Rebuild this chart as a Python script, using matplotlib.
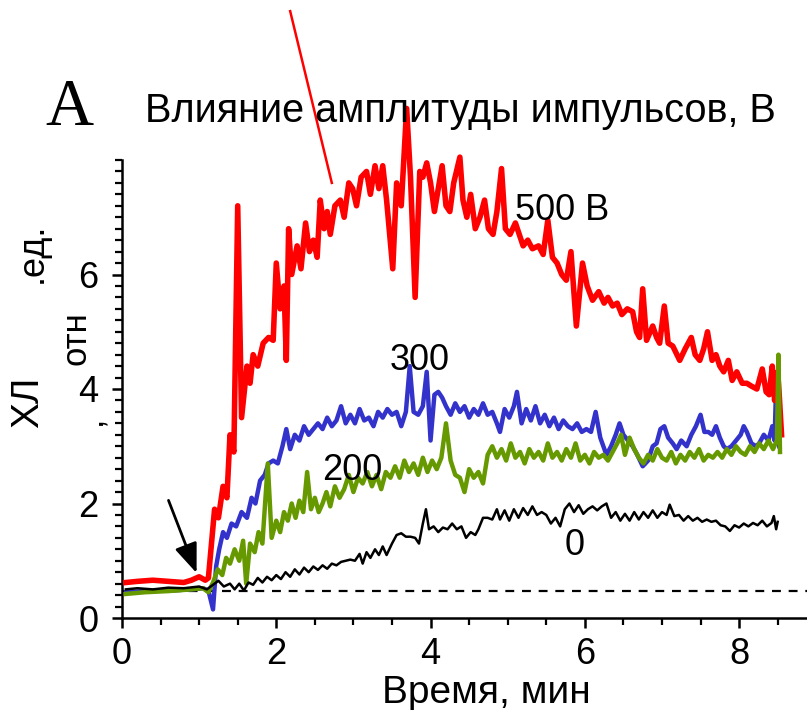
from matplotlib import pyplot as plt
from matplotlib.ticker import FixedLocator
import numpy as np

# 500 V
red_t = [0.05, 0.2, 0.4, 0.6, 0.8, 0.9, 1.0, 1.08, 1.12, 1.14,
         1.2, 1.25, 1.31, 1.36, 1.4, 1.45, 1.5, 1.55, 1.62, 1.66,
         1.7, 1.76, 1.83, 1.9, 1.96, 2.0, 2.05, 2.1, 2.13, 2.16,
         2.2, 2.27, 2.32, 2.38, 2.43, 2.48, 2.53, 2.57, 2.62, 2.66,
         2.7, 2.76, 2.83, 2.88, 2.94, 2.99, 3.04, 3.1, 3.17, 3.22,
         3.28, 3.33, 3.38, 3.43, 3.51, 3.56, 3.62, 3.69, 3.74, 3.8,
         3.86, 3.9, 3.95, 4.0, 4.05, 4.1, 4.15, 4.2, 4.25, 4.3,
         4.38, 4.42, 4.47, 4.52, 4.58, 4.64, 4.7, 4.75, 4.81, 4.86,
         4.92, 4.97, 5.03, 5.1, 5.2, 5.26, 5.32, 5.4, 5.46, 5.52,
         5.58, 5.64, 5.7, 5.76, 5.82, 5.89, 5.97, 6.03, 6.1, 6.18,
         6.25, 6.3, 6.36, 6.42, 6.48, 6.55, 6.62, 6.67, 6.71, 6.75,
         6.8, 6.88, 6.93, 6.97, 7.03, 7.08, 7.14, 7.23, 7.3, 7.38,
         7.43, 7.49, 7.54, 7.59, 7.65, 7.7, 7.75, 7.8, 7.86, 7.91,
         7.97, 8.04, 8.1, 8.16, 8.23, 8.3, 8.35, 8.39, 8.43, 8.46,
         8.5, 8.52, 8.55]
red_v = [0.62, 0.64, 0.66, 0.64, 0.62, 0.66, 0.72, 0.66, 0.7, 1.0,
         1.9, 1.75, 2.3, 2.1, 3.2, 2.9, 7.2, 3.5, 4.4, 4.1,
         4.6, 4.4, 4.8, 4.9, 4.85, 6.2, 5.4, 5.8, 4.5, 6.8,
         6.0, 6.5, 6.1, 6.9, 6.4, 6.6, 6.3, 7.3, 6.8, 7.1,
         6.7, 7.2, 7.3, 7.0, 7.6, 7.5, 7.2, 7.7, 7.8, 7.4,
         7.9, 7.5, 7.9, 7.3, 6.1, 7.6, 7.2, 8.9, 7.7, 5.6,
         7.8, 7.7, 7.95, 7.6, 7.1, 7.5, 7.9, 7.2, 7.1, 7.6,
         8.05, 7.3, 7.0, 7.4, 6.8, 7.0, 7.3, 6.8, 6.7, 7.1,
         7.85, 6.8, 6.7, 6.9, 6.5, 6.6, 6.45, 6.5, 6.35, 6.95,
         6.3, 6.2, 6.0, 5.9, 6.4, 5.1, 6.2, 5.8, 5.55, 5.7,
         5.5, 5.6, 5.45, 5.5, 5.3, 5.4, 5.35, 5.0, 4.9, 5.75,
         4.85, 5.1, 4.9, 4.8, 5.45, 4.8, 4.75, 4.5, 4.7, 4.9,
         4.6, 4.5, 4.7, 5.0, 4.5, 4.6, 4.4, 4.3, 4.5, 4.15,
         4.3, 4.1, 4.1, 4.05, 4.0, 4.35, 3.95, 3.9, 4.4, 3.8,
         4.3, 3.9, 3.2]
# stray spike above the frame
red_spike_t = [2.18, 2.72]
red_spike_v = [10.6, 7.6]

# 300 V
blue_t = [0.05, 0.3, 0.6, 0.9, 1.05, 1.12, 1.18, 1.22, 1.26, 1.31,
          1.36, 1.42, 1.48, 1.55, 1.62, 1.68, 1.73, 1.79, 1.85, 1.9,
          1.96, 2.02, 2.08, 2.13, 2.18, 2.24, 2.3, 2.36, 2.42, 2.48,
          2.54, 2.6, 2.66, 2.72, 2.78, 2.84, 2.9, 2.96, 3.02, 3.08,
          3.14, 3.2, 3.26, 3.32, 3.38, 3.44, 3.5, 3.56, 3.62, 3.68,
          3.73, 3.78, 3.84, 3.9, 3.95, 4.0, 4.05, 4.1, 4.15, 4.2,
          4.26, 4.32, 4.38, 4.44, 4.5, 4.56, 4.62, 4.68, 4.74, 4.8,
          4.86, 4.9, 4.96, 5.02, 5.08, 5.12, 5.18, 5.24, 5.3, 5.36,
          5.42, 5.48, 5.54, 5.6, 5.66, 5.72, 5.78, 5.84, 5.9, 5.96,
          6.02, 6.08, 6.14, 6.2, 6.28, 6.34, 6.4, 6.45, 6.5, 6.56,
          6.62, 6.68, 6.75, 6.82, 6.88, 6.93, 6.98, 7.03, 7.08, 7.14,
          7.19, 7.25, 7.32, 7.38, 7.44, 7.5, 7.55, 7.6, 7.65, 7.7,
          7.75, 7.8, 7.84, 7.9, 7.96, 8.02, 8.06, 8.1, 8.16, 8.22,
          8.26, 8.32, 8.38, 8.43, 8.46, 8.48, 8.5, 8.52]
blue_v = [0.45, 0.47, 0.48, 0.5, 0.52, 0.48, 0.15, 0.9, 1.2, 1.5,
          1.4, 1.65, 1.6, 1.85, 1.75, 2.1, 2.0, 2.4, 2.5, 2.7,
          2.75, 2.7, 3.0, 3.3, 2.95, 3.2, 3.1, 3.35, 3.2, 3.3,
          3.4, 3.3, 3.5, 3.35, 3.45, 3.7, 3.4, 3.55, 3.4, 3.65,
          3.45, 3.5, 3.35, 3.6, 3.5, 3.65, 3.55, 3.6, 3.35, 3.6,
          4.4, 3.6, 3.55, 3.7, 4.3, 3.1, 3.9, 3.95, 3.85, 3.7,
          3.55, 3.75, 3.6, 3.7, 3.5, 3.65, 3.55, 3.75, 3.55, 3.6,
          3.4, 3.25, 3.65, 3.5, 3.7, 3.95, 3.4, 3.65, 3.45, 3.7,
          3.4, 3.55, 3.35, 3.5, 3.3, 3.45, 3.35, 3.3, 3.4, 3.25,
          3.3, 3.25, 3.6, 3.15, 2.85, 3.0, 3.2, 3.4, 3.2, 3.1,
          3.0, 2.85, 2.65, 2.75, 3.0, 3.05, 3.3, 3.35, 3.15, 3.05,
          2.95, 3.1, 3.0, 3.2, 3.35, 3.55, 3.25, 3.25, 3.2, 3.35,
          3.15, 3.0, 2.95, 3.0, 3.1, 3.2, 3.35, 3.25, 3.05, 3.0,
          3.05, 3.2, 3.1, 3.35, 3.1, 4.1, 3.3, 3.0]

# 200 V
green_t = [0.05, 0.3, 0.6, 0.9, 1.05, 1.12, 1.18, 1.24, 1.3, 1.35,
           1.4, 1.46, 1.52, 1.57, 1.61, 1.66, 1.72, 1.77, 1.82, 1.89,
           1.94, 2.0, 2.05, 2.1, 2.15, 2.2, 2.25, 2.3, 2.35, 2.4,
           2.45, 2.5, 2.55, 2.6, 2.65, 2.7, 2.76, 2.82, 2.88, 2.94,
           3.0, 3.06, 3.12, 3.18, 3.24, 3.3, 3.36, 3.42, 3.48, 3.54,
           3.6, 3.66, 3.72, 3.78, 3.84, 3.9, 3.96, 4.02, 4.08, 4.14,
           4.2, 4.26, 4.32, 4.38, 4.44, 4.5, 4.56, 4.62, 4.68, 4.74,
           4.8, 4.86, 4.92, 4.98, 5.04, 5.1, 5.16, 5.22, 5.28, 5.34,
           5.4, 5.46, 5.52, 5.58, 5.64, 5.7, 5.76, 5.82, 5.88, 5.94,
           6.0, 6.06, 6.12, 6.18, 6.24, 6.3, 6.36, 6.42, 6.47, 6.52,
           6.58, 6.64, 6.7, 6.76, 6.82, 6.88, 6.94, 7.0, 7.06, 7.12,
           7.18, 7.24, 7.3, 7.36, 7.42, 7.48, 7.54, 7.6, 7.66, 7.72,
           7.78, 7.84, 7.9, 7.96, 8.02, 8.08, 8.14, 8.2, 8.26, 8.32,
           8.38, 8.44, 8.49, 8.51, 8.53]
green_v = [0.42, 0.45, 0.47, 0.5, 0.52, 0.45, 0.62, 0.85, 0.75, 1.05,
           0.95, 1.2, 1.0, 1.35, 0.6, 1.3, 1.15, 1.5, 1.3, 2.7,
           1.4, 1.7, 1.5, 1.85, 1.7, 2.0, 1.75, 2.05, 1.85, 2.55,
           1.9, 2.1, 1.85, 2.0, 2.2, 1.95, 2.3, 2.1, 2.25, 2.5,
           2.2, 2.45, 2.35, 2.55, 2.3, 2.5, 2.25, 2.55, 2.45, 2.65,
           2.45, 2.75, 2.55, 2.7, 2.5, 2.8, 2.55, 2.75, 2.6, 2.8,
           3.4, 2.75, 2.5, 2.45, 2.2, 2.6, 2.45, 2.55, 2.35, 2.85,
           3.0, 2.8, 2.95, 2.75, 3.05, 2.8, 2.9, 2.7, 2.95, 2.8,
           2.9, 2.75, 3.05, 2.8, 2.9, 2.75, 2.95, 2.8, 3.05, 2.75,
           2.85, 2.7, 2.9, 2.8, 2.85, 2.75, 2.9, 3.05, 3.2, 2.85,
           3.15, 2.95, 2.8, 2.7, 2.85, 2.75, 2.95, 2.8, 2.75, 2.9,
           2.7, 2.85, 2.75, 2.9, 2.8, 2.95, 2.75, 2.85, 2.8, 2.9,
           2.8, 2.95, 2.85, 3.0, 2.9, 2.85, 3.0, 2.9, 3.05, 2.95,
           3.1, 2.95, 3.1, 4.6, 2.9]

# 0 V
black_t = [0.05, 0.2, 0.4, 0.6, 0.8, 1.0, 1.1, 1.18, 1.25, 1.32,
           1.4, 1.46, 1.52, 1.58, 1.64, 1.7, 1.76, 1.82, 1.88, 1.94,
           2.0, 2.06, 2.12, 2.18, 2.24, 2.3, 2.36, 2.42, 2.48, 2.54,
           2.6, 2.66, 2.72, 2.78, 2.84, 2.9, 2.96, 3.02, 3.08, 3.12,
           3.17, 3.22, 3.28, 3.33, 3.38, 3.43, 3.5, 3.56, 3.62, 3.68,
           3.74, 3.8, 3.85, 3.9, 3.94, 3.98, 4.04, 4.1, 4.16, 4.22,
           4.28, 4.34, 4.4, 4.46, 4.52, 4.58, 4.62, 4.68, 4.74, 4.8,
           4.86, 4.9, 4.96, 5.02, 5.08, 5.14, 5.2, 5.26, 5.32, 5.38,
           5.44, 5.5, 5.56, 5.62, 5.68, 5.74, 5.8, 5.86, 5.92, 5.98,
           6.04, 6.1, 6.16, 6.22, 6.28, 6.34, 6.4, 6.46, 6.52, 6.58,
           6.64, 6.7, 6.76, 6.82, 6.88, 6.94, 7.0, 7.06, 7.1, 7.16,
           7.22, 7.28, 7.34, 7.4, 7.46, 7.52, 7.58, 7.64, 7.7, 7.76,
           7.82, 7.88, 7.94, 8.0, 8.06, 8.12, 8.18, 8.24, 8.3, 8.36,
           8.42, 8.45, 8.48, 8.5]
black_v = [0.5, 0.52, 0.5, 0.53, 0.52, 0.55, 0.5, 0.58, 0.65, 0.55,
           0.6, 0.5, 0.6, 0.48, 0.62, 0.58, 0.7, 0.62, 0.72, 0.66,
           0.75, 0.68, 0.8, 0.72, 0.85, 0.76, 0.88, 0.8, 0.9, 0.84,
           0.92, 0.86, 0.95, 0.92, 0.98, 1.0, 1.02, 1.0, 1.12, 0.95,
           1.15, 1.05, 1.2, 1.1, 1.25, 1.1, 1.3, 1.45, 1.48, 1.42,
           1.42, 1.4, 1.3, 1.65, 1.9, 1.55, 1.6, 1.5, 1.58, 1.55,
           1.65, 1.55, 1.6, 1.4, 1.5, 1.45, 1.55, 1.75, 1.75, 1.72,
           1.9, 1.72, 1.88, 1.7, 1.9, 1.75, 1.92, 1.8, 1.95, 1.8,
           1.85, 1.8, 1.65, 1.75, 1.6, 1.9, 2.0, 1.85, 1.97, 1.82,
           1.9, 1.95, 1.88, 1.95, 2.0, 1.75, 1.85, 1.7, 1.82, 1.7,
           1.85, 1.72, 1.85, 1.75, 1.88, 1.75, 1.85, 1.8, 1.98, 1.78,
           1.8, 1.7, 1.78, 1.7, 1.75, 1.68, 1.72, 1.68, 1.7, 1.62,
           1.6, 1.52, 1.62, 1.58, 1.65, 1.6, 1.66, 1.62, 1.7, 1.6,
           1.66, 1.78, 1.55, 1.68]

baseline = 0.47
series_labels = ['500 В', '300', '200', '0']
label_pos = [(5.09, 6.96), (3.47, 4.34), (2.59, 2.41), (5.74, 1.1)]

W, H = 807, 710
fig = plt.figure(figsize=(W / 100, H / 100), dpi=100)
ax = fig.add_axes([122 / W, 92 / H, 1 - 122 / W, 458 / H])

def fx(px):
    return px / W

def fy(py):
    return 1 - py / H

ax.axhline(baseline, color='black', lw=1.6, ls=(0, (4, 3.5)), zorder=1)
ax.plot(blue_t, blue_v, color='#3333cc', lw=3.2, zorder=2)
ax.plot(red_t, red_v, color='#ff0000', lw=4.0, zorder=3, clip_on=False)
ax.plot(red_spike_t, red_spike_v, color='#ff0000', lw=1.8, zorder=3, clip_on=False)
ax.plot(green_t, green_v, color='#669900', lw=3.2, zorder=4)
ax.plot(black_t, black_v, color='black', lw=1.8, zorder=5)

for s, (x, y) in zip(series_labels, label_pos):
    ax.text(x, y, s, fontsize=26, family='Liberation Sans', va='baseline', ha='left', zorder=6)

ax.annotate('', xy=(0.98, 0.74), xytext=(0.59, 2.1),
            arrowprops=dict(arrowstyle='-|>,head_length=1.8,head_width=0.7', color='black', lw=2))

ax.set_xlim(0, 8.88)
ax.set_ylim(0, 8)
ax.xaxis.set_major_locator(FixedLocator([0, 2, 4, 6, 8]))
ax.xaxis.set_minor_locator(FixedLocator(np.arange(0, 8.6, 0.5)))
ax.yaxis.set_major_locator(FixedLocator([0, 2, 4, 6]))
ax.yaxis.set_minor_locator(FixedLocator(np.arange(0, 8.01, 0.2)))
for sp in ['top', 'right']:
    ax.spines[sp].set_visible(False)
for sp in ['left', 'bottom']:
    ax.spines[sp].set_linewidth(1.8)
ax.tick_params(which='major', direction='out', length=7, width=1.8, labelsize=26)
ax.tick_params(which='minor', direction='out', length=5, width=1.6)
ax.tick_params(axis='y', pad=10)
ax.tick_params(axis='x', pad=7)
for lab in ax.get_xticklabels() + ax.get_yticklabels():
    lab.set_family('Liberation Sans')

fig.text(fx(382), fy(703), 'Время, мин', fontsize=28, family='Liberation Sans',
         ha='left', va='baseline')
fig.text(fx(145), fy(122), 'Влияние амплитуды импульсов, В', fontsize=28.5,
         family='Liberation Sans', ha='left', va='baseline')
fig.text(fx(45), fy(125), 'A', fontsize=48, family='Liberation Serif',
         ha='left', va='baseline')

fig.text(fx(28), fy(402), 'ХЛ', fontsize=28, family='Liberation Sans',
         rotation=90, ha='center', va='center')
fig.text(fx(92), fy(420), ',', fontsize=24, family='Liberation Sans',
         rotation=90, ha='center', va='center')
fig.text(fx(76), fy(338), 'отн', fontsize=25, family='Liberation Sans',
         rotation=90, ha='center', va='center')
fig.text(fx(32), fy(253), '.ед.', fontsize=26, family='Liberation Sans',
         rotation=90, ha='center', va='center')

fig.savefig('out.png', dpi=100)
